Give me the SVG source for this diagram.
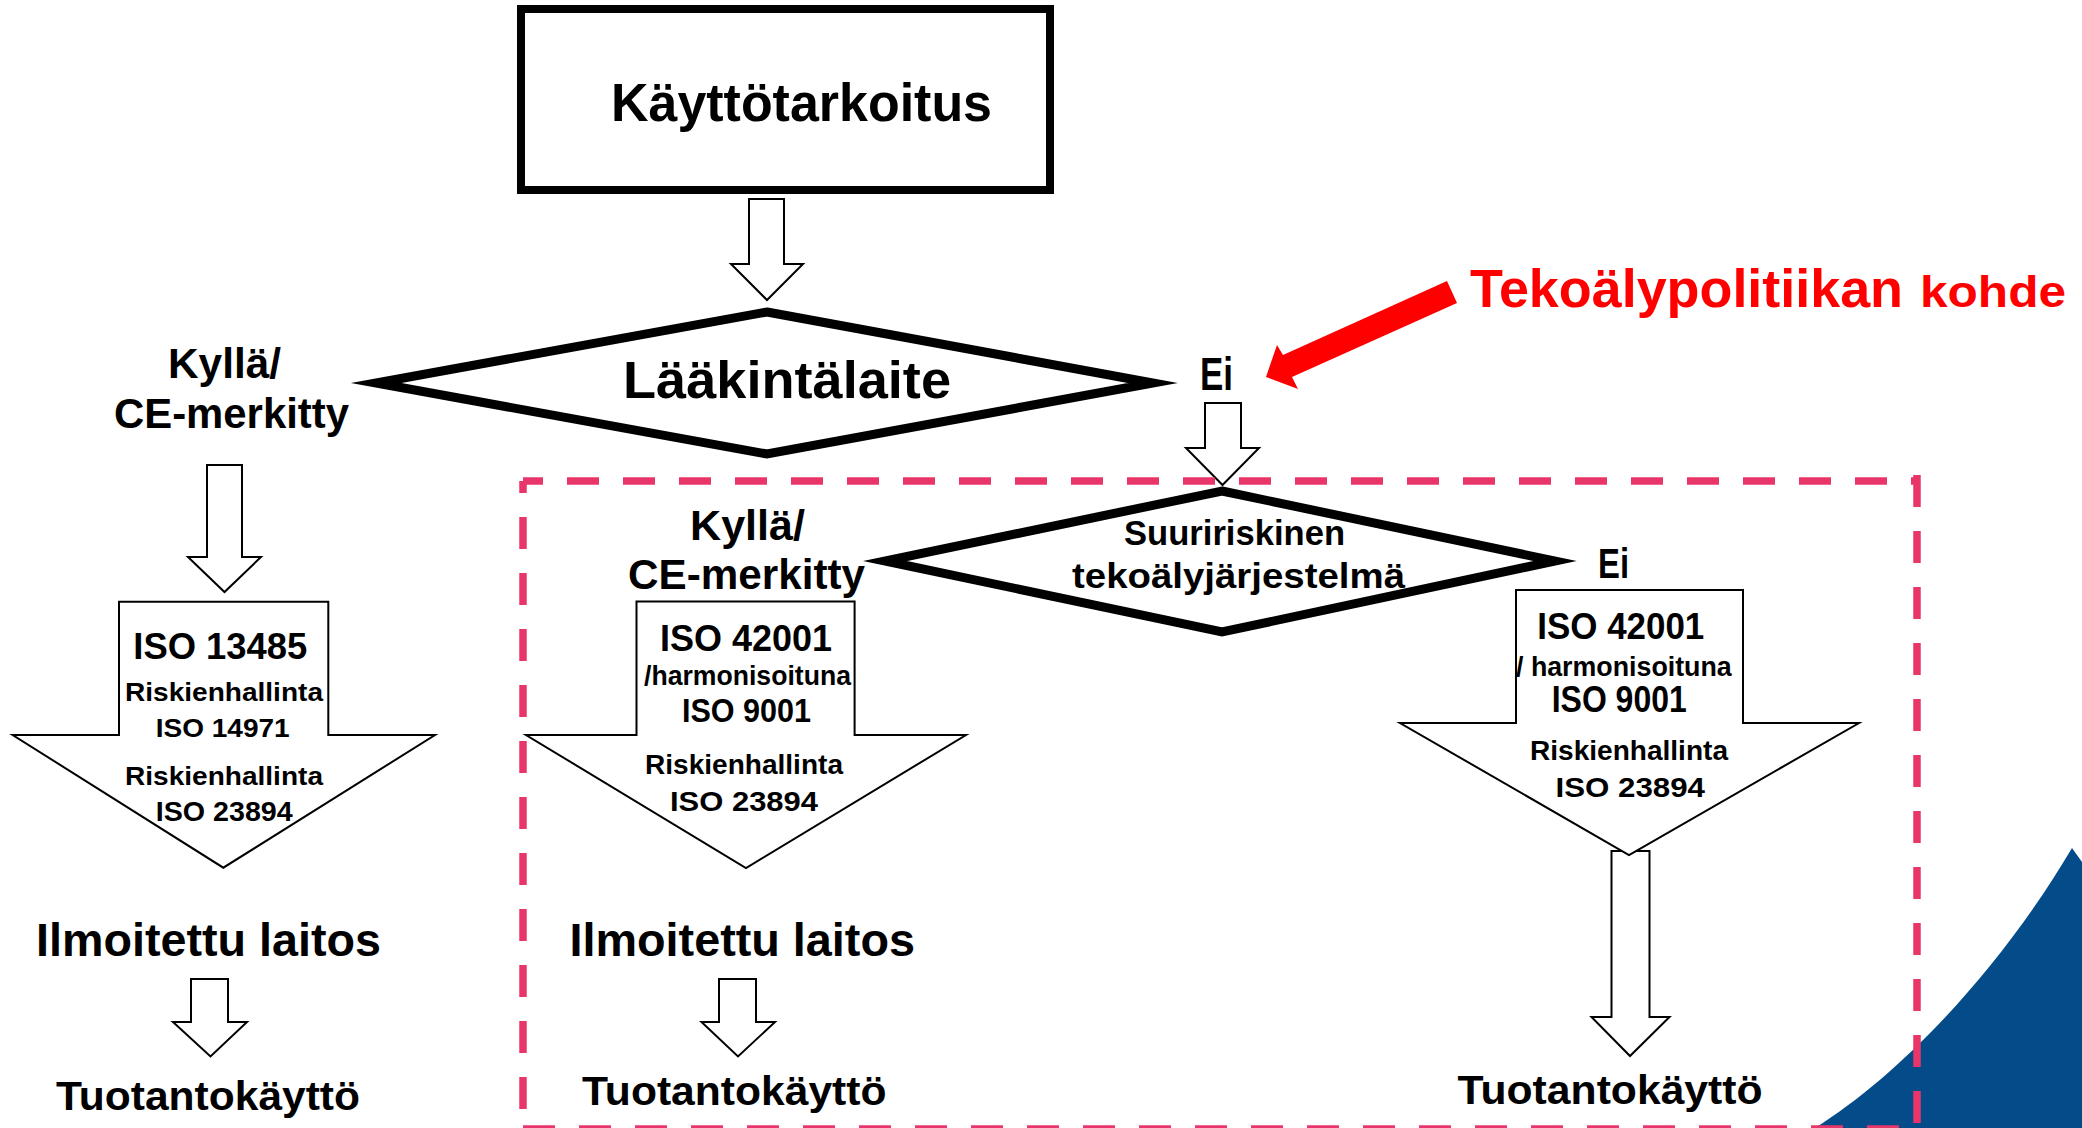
<svg xmlns="http://www.w3.org/2000/svg" width="2082" height="1128" viewBox="0 0 2082 1128">
<style>
.t{font-family:"Liberation Sans",Arial,sans-serif;font-weight:bold;fill:#000}
.r{fill:#FF0000}
.blk{fill:#fff;stroke:#000;stroke-width:2;stroke-linejoin:miter}
.dia{fill:#fff;stroke:#000;stroke-width:9;stroke-linejoin:miter;stroke-miterlimit:10}
.dash{fill:none;stroke:#E9366A;stroke-width:7.5;stroke-dasharray:32 24}
</style>
<rect width="2082" height="1128" fill="#fff"/>
<path id="blue-shape" d="M1815,1128 C1900,1075 2000,970 2072,848 L2082,862 L2082,1128 Z" fill="#044C89"/>
<g id="connectors">
<path class="blk" d="M749,199 H784 V264 H803 L767,300 L731,264 H749 Z"/>
<path class="blk" d="M1205,403 H1241 V448 H1259 L1222.5,485 L1186,448 H1205 Z"/>
<path class="blk" d="M207,465 H242 V557 H261 L224.5,592 L188,557 H207 Z"/>
<path class="blk" d="M191,979 H228 V1022 H247 L210.5,1056.5 L173,1022 H191 Z"/>
<path class="blk" d="M719,979 H756 V1022 H775 L738,1056.5 L701.5,1022 H719 Z"/>
<path class="blk" d="M1611.5,851 H1649.5 V1017 H1669.5 L1630,1056 L1591.5,1017 H1611.5 Z"/>
<path id="red-arrow" d="M1447,281 L1457,303 L1292,377 L1298,389 L1266,377 L1277,345 L1283,355 Z" fill="#FF0000"/>
</g>
<g id="node-kayttotarkoitus">
<rect x="521" y="9" width="529" height="181" fill="#fff" stroke="#000" stroke-width="8"/>
<text class="t" x="611" y="121" font-size="54" textLength="381" lengthAdjust="spacingAndGlyphs">Käyttötarkoitus</text>
</g>
<g id="node-laakintalaite">
<path class="dia" d="M767,312 L1153,383 L767,454 L376,383 Z"/>
<text class="t" x="623" y="398" font-size="51" textLength="328" lengthAdjust="spacingAndGlyphs">Lääkintälaite</text>
</g>
<g id="label-kylla-left">
<text class="t" x="168" y="378" font-size="42" textLength="113" lengthAdjust="spacingAndGlyphs">Kyllä/</text>
<text class="t" x="114" y="428" font-size="42" textLength="235" lengthAdjust="spacingAndGlyphs">CE-merkitty</text>
</g>
<g id="label-ei-1">
<text class="t" x="1200" y="390" font-size="46" textLength="33" lengthAdjust="spacingAndGlyphs">Ei</text>
</g>
<g id="label-policy">
<text class="t r" x="1470" y="307" font-size="53" textLength="433" lengthAdjust="spacingAndGlyphs">Tekoälypolitiikan</text>
<text class="t r" x="1920" y="307" font-size="44" textLength="146" lengthAdjust="spacingAndGlyphs">kohde</text>
</g>
<g id="node-suuririskinen">
<path class="dia" d="M1222,491 L1555,561 L1222,632 L885,561 Z"/>
<text class="t" x="1124" y="545" font-size="35" textLength="221" lengthAdjust="spacingAndGlyphs">Suuririskinen</text>
<text class="t" x="1072" y="588" font-size="35" textLength="333" lengthAdjust="spacingAndGlyphs">tekoälyjärjestelmä</text>
</g>
<g id="label-ei-2">
<text class="t" x="1598" y="578" font-size="43" textLength="31" lengthAdjust="spacingAndGlyphs">Ei</text>
</g>
<g id="label-kylla-mid">
<text class="t" x="690" y="540" font-size="42" textLength="115" lengthAdjust="spacingAndGlyphs">Kyllä/</text>
<text class="t" x="628" y="589" font-size="42" textLength="237" lengthAdjust="spacingAndGlyphs">CE-merkitty</text>
</g>
<g id="node-iso13485">
<path class="blk" d="M119,601.7 H328.3 V735 H435 L223.3,867.7 L12.7,735 H119 Z"/>
<text class="t" x="133.3" y="659" font-size="36" textLength="174" lengthAdjust="spacingAndGlyphs">ISO 13485</text>
<text class="t" x="125" y="701" font-size="26" textLength="198" lengthAdjust="spacingAndGlyphs">Riskienhallinta</text>
<text class="t" x="155.7" y="737" font-size="26" textLength="134" lengthAdjust="spacingAndGlyphs">ISO 14971</text>
<text class="t" x="125" y="785" font-size="26" textLength="198" lengthAdjust="spacingAndGlyphs">Riskienhallinta</text>
<text class="t" x="155.7" y="821" font-size="27" textLength="137" lengthAdjust="spacingAndGlyphs">ISO 23894</text>
</g>
<g id="node-iso42001-mid">
<path class="blk" d="M636.5,601.5 H854.6 V735 H966 L746,868 L526,735 H636.5 Z"/>
<text class="t" x="660" y="650.6" font-size="36" textLength="172" lengthAdjust="spacingAndGlyphs">ISO 42001</text>
<text class="t" x="644" y="685" font-size="27" textLength="207" lengthAdjust="spacingAndGlyphs">/harmonisoituna</text>
<text class="t" x="682" y="721.7" font-size="34" textLength="129" lengthAdjust="spacingAndGlyphs">ISO 9001</text>
<text class="t" x="645" y="773.5" font-size="27" textLength="198" lengthAdjust="spacingAndGlyphs">Riskienhallinta</text>
<text class="t" x="670" y="810.8" font-size="28" textLength="148" lengthAdjust="spacingAndGlyphs">ISO 23894</text>
</g>
<g id="node-iso42001-right">
<path class="blk" d="M1516,590 H1743 V723 H1859 L1629,855 L1400,723 H1516 Z"/>
<text class="t" x="1537.3" y="639.3" font-size="37" textLength="167" lengthAdjust="spacingAndGlyphs">ISO 42001</text>
<text class="t" x="1516" y="676" font-size="28" textLength="215.7" lengthAdjust="spacingAndGlyphs">/ harmonisoituna</text>
<text class="t" x="1551.7" y="712" font-size="36" textLength="135" lengthAdjust="spacingAndGlyphs">ISO 9001</text>
<text class="t" x="1530" y="760" font-size="27" textLength="198" lengthAdjust="spacingAndGlyphs">Riskienhallinta</text>
<text class="t" x="1555.5" y="797" font-size="28" textLength="149.5" lengthAdjust="spacingAndGlyphs">ISO 23894</text>
</g>
<g id="node-ilmoitettu-left">
<text class="t" x="36" y="955.6" font-size="46" textLength="345" lengthAdjust="spacingAndGlyphs">Ilmoitettu laitos</text>
</g>
<g id="node-ilmoitettu-mid">
<text class="t" x="569.5" y="955.6" font-size="46" textLength="345.5" lengthAdjust="spacingAndGlyphs">Ilmoitettu laitos</text>
</g>
<g id="node-tuotanto-left">
<text class="t" x="56" y="1110" font-size="40" textLength="304" lengthAdjust="spacingAndGlyphs">Tuotantokäyttö</text>
</g>
<g id="node-tuotanto-mid">
<text class="t" x="582" y="1104.7" font-size="40" textLength="304.5" lengthAdjust="spacingAndGlyphs">Tuotantokäyttö</text>
</g>
<g id="node-tuotanto-right">
<text class="t" x="1457.6" y="1103.5" font-size="40" textLength="305" lengthAdjust="spacingAndGlyphs">Tuotantokäyttö</text>
</g>
<g id="ai-scope-frame">
<path class="dash" d="M523,481 H1917" stroke-dashoffset="12"/>
<path class="dash" d="M523,481 V1129" stroke-dashoffset="20"/>
<path class="dash" d="M1917,475 V1129"/>
<path class="dash" d="M523,1129 H1917"/>
</g>
</svg>
